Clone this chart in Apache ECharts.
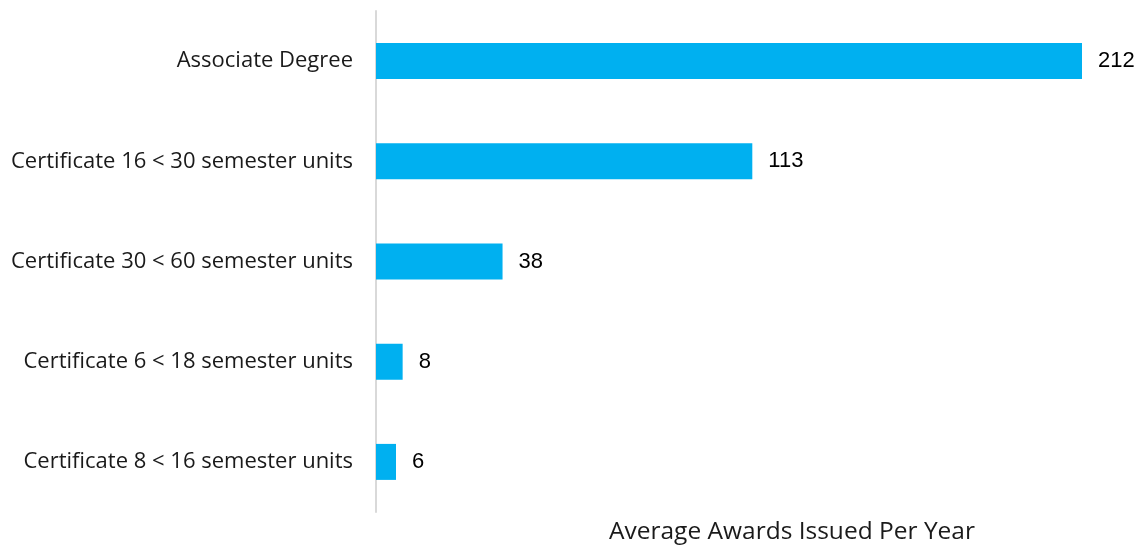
<!DOCTYPE html>
<html>
<head>
<meta charset="utf-8">
<script src="https://cdn.jsdelivr.net/npm/echarts@6/dist/echarts.min.js"></script>
<style>html,body{margin:0;padding:0;background:#fff}#c{width:1144px;height:548px}</style>
</head>
<body>
<div id="c"></div>
<script>
const categories = ["Associate Degree", "Certificate 16 < 30 semester units", "Certificate 30 < 60 semester units", "Certificate 6 < 18 semester units", "Certificate 8 < 16 semester units"];
const values = [212, 113, 38, 8, 6];
const axisTitle = "Average Awards Issued Per Year";

const chart = echarts.init(document.getElementById('c'));
chart.setOption({
  animation: false,
  grid: {left: 376, right: 62, top: 11, bottom: 36, containLabel: false},
  xAxis: {type: 'value', min: 0, max: 212, show: false},
  yAxis: {
    type: 'category', data: categories, inverse: true,
    axisLine: {show: true, lineStyle: {color: '#d9d9d9', width: 2}},
    axisTick: {show: false},
    axisLabel: {color: '#1a1a1a', fontSize: 22, fontFamily: 'Open Sans', margin: 23}
  },
  graphic: [{type: 'text', left: 609, top: 520, style: {text: axisTitle, fontSize: 24.5, fontFamily: 'Open Sans', fill: '#1a1a1a'}}],
  series: [{
    type: 'bar', data: values, barWidth: 36,
    itemStyle: {color: '#00B0F0'},
    label: {show: true, position: 'right', distance: 16, color: '#000', fontSize: 22, fontFamily: 'Liberation Sans'}
  }]
});
</script>
</body>
</html>
